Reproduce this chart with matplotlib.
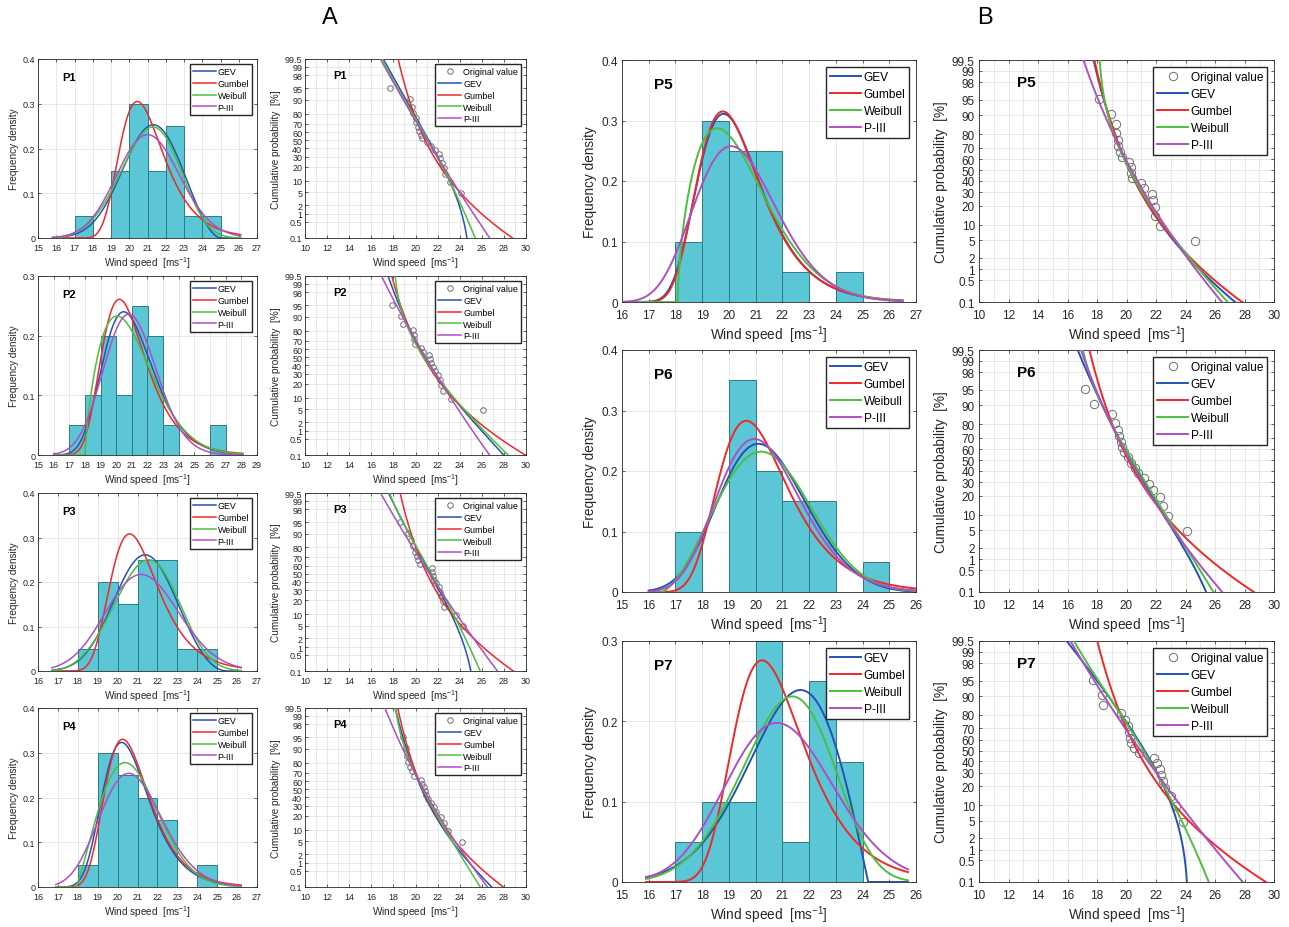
import math
import numpy as np
import matplotlib
matplotlib.use("Agg")
import matplotlib.pyplot as plt

plt.rcParams['font.family'] = ['Liberation Sans', 'DejaVu Sans']
plt.rcParams['mathtext.fontset'] = 'custom'
plt.rcParams['mathtext.rm'] = 'Liberation Sans'
plt.rcParams['mathtext.it'] = 'Liberation Sans:italic'

stations = ['P1', 'P2', 'P3', 'P4', 'P5', 'P6', 'P7']

# histogram bars (bin width 1 m/s), first bin left edge
bar_start = [17, 17, 18, 18, 18, 17, 17]
bar_heights = [
    [0.05, 0, 0.15, 0.30, 0.15, 0.25, 0.05, 0.05],
    [0.05, 0.10, 0.20, 0.10, 0.25, 0.20, 0.05, 0, 0, 0.05],
    [0.05, 0.20, 0.15, 0.25, 0.25, 0.05, 0.05],
    [0.05, 0.30, 0.25, 0.20, 0.15, 0, 0.05],
    [0.10, 0.30, 0.25, 0.25, 0.05, 0, 0.05],
    [0.10, 0, 0.35, 0.20, 0.15, 0.15, 0, 0.05],
    [0.05, 0.10, 0.10, 0.30, 0.05, 0.25, 0.15],
]

# original annual maximum wind speeds (m/s)
samples = [
    [17.7, 19.5, 19.65, 19.8, 20.0, 20.05, 20.2, 20.35, 20.5, 20.6,
     21.05, 21.4, 21.75, 22.1, 22.25, 22.4, 22.55, 22.7, 23.1, 24.1],
    [17.9, 18.7, 18.9, 19.75, 19.85, 19.9, 19.97, 20.5, 20.65, 21.2,
     21.3, 21.4, 21.6, 21.8, 22.05, 22.2, 22.35, 22.5, 23.2, 26.1],
    [18.6, 19.3, 19.6, 19.8, 19.95, 20.1, 20.2, 20.4, 21.45, 21.5,
     21.6, 21.7, 21.9, 22.1, 22.2, 22.35, 22.5, 22.6, 23.7, 24.3],
    [18.9, 19.1, 19.2, 19.3, 19.5, 19.7, 19.9, 20.5, 20.6, 20.8,
     20.9, 20.95, 21.1, 21.4, 21.7, 21.9, 22.3, 22.6, 22.9, 24.2],
    [18.13, 18.93, 19.27, 19.3, 19.4, 19.45, 19.55, 19.68, 20.2, 20.3,
     20.3, 20.35, 20.95, 21.16, 21.73, 21.78, 21.9, 21.95, 22.3, 24.67],
    [17.2, 17.8, 19.0, 19.2, 19.4, 19.5, 19.6, 19.7, 19.85, 20.1,
     20.3, 20.6, 20.8, 21.2, 21.5, 21.8, 22.3, 22.5, 22.8, 24.1],
    [17.7, 18.31, 18.43, 19.6, 19.88, 20.1, 20.17, 20.25, 20.33, 20.5,
     20.87, 21.85, 22.05, 22.28, 22.35, 22.46, 22.6, 23.05, 23.37, 23.8],
]

# fitted curves: mode, peak density, speed at 0.1 % exceedance
gumbel_mode = [20.44, 20.20, 20.60, 20.25, 19.77, 19.65, 20.24]
gumbel_peak = [0.305, 0.261, 0.308, 0.330, 0.315, 0.283, 0.276]

gev_mode = [21.32, 20.48, 21.38, 20.20, 19.80, 20.10, 21.68]
gev_peak = [0.253, 0.240, 0.261, 0.323, 0.311, 0.245, 0.239]
gev_x999 = [24.65, 27.97, 25.00, 26.90, 27.36, 25.40, 24.10]

wbl_mode = [21.30, 20.05, 21.55, 20.37, 19.56, 20.20, 21.37]
wbl_peak = [0.248, 0.233, 0.250, 0.278, 0.287, 0.232, 0.231]
wbl_x999 = [25.40, 28.37, 25.86, 25.85, 26.86, 25.90, 25.58]

p3_mode = [21.00, 20.80, 21.18, 20.55, 20.08, 19.95, 20.80]
p3_peak = [0.231, 0.236, 0.217, 0.254, 0.2575, 0.253, 0.198]
p3_x999 = [26.70, 26.70, 27.40, 26.50, 26.45, 26.50, 27.86]

# axes
pdf_xlim = [(15, 27), (15, 29), (16, 27), (16, 27), (16, 27), (15, 26), (15, 26)]
pdf_ymax = [0.4, 0.3, 0.4, 0.4, 0.4, 0.4, 0.3]
curve_range = [(15.8, 26.1), (16.0, 28.1), (16.7, 26.2), (16.9, 26.2),
               (16.0, 26.5), (16.0, 26.0), (15.9, 25.7)]
prob_ticks = [0.1, 0.5, 1, 2, 5, 10, 20, 30, 40, 50, 60, 70, 80, 90, 95, 98, 99, 99.5]

dist_names = ['GEV', 'Gumbel', 'Weibull', 'P-III']
dist_colors = ['#2552b2', '#f02828', '#4cc03c', '#b04ec4']
BAR = '#5bc6d6'
EDGE = '#2e7b82'
AX = '#262626'

# normal probability scale
ZZ = np.linspace(-6, 6, 120001)
CC = 0.5 * (1 + np.array([math.erf(z / math.sqrt(2)) for z in ZZ]))


def ppf(p):
    return np.interp(p, CC, ZZ)


def fit_gev(mode, peak, x999):
    best = (1e9, 0, 0, 0)
    for k in np.linspace(-0.9, 0.6, 1501):
        if abs(k) < 1e-3:
            continue
        s = (1 + k) ** (1 + k) * math.exp(-(1 + k)) / peak
        mu = mode - s * ((1 + k) ** (-k) - 1) / k
        q = mu + s * ((-math.log(0.999)) ** (-k) - 1) / k
        if abs(q - x999) < best[0]:
            best = (abs(q - x999), k, mu, s)
    return best[1:]


def gev_curve(x, k, mu, s):
    y = 1 + k * (x - mu) / s
    ok = y > 0
    t = np.where(ok, y, 1.0) ** (-1 / k)
    pdf = np.where(ok, t ** (k + 1) * np.exp(-t) / s, 0.0)
    cdf = np.where(ok, np.exp(-t), 1.0 if k < 0 else 0.0)
    return pdf, cdf


def gumbel_curve(x, mode, peak):
    b = 1 / (math.e * peak)
    z = (x - mode) / b
    return np.exp(-z - np.exp(-z)) / b, np.exp(-np.exp(-z))


def fit_wbl(mode, peak, x999):
    best = (1e9, 0, 0, 0)
    for k in np.linspace(1.05, 15, 2800):
        r = (k - 1) / k
        lam = k / peak * r ** r * math.exp(-r)
        c = mode - lam * r ** (1 / k)
        q = c + lam * math.log(1000) ** (1 / k)
        if abs(q - x999) < best[0]:
            best = (abs(q - x999), k, c, lam)
    return best[1:]


def wbl_curve(x, k, c, lam):
    u = np.clip((x - c) / lam, 0, None)
    pdf = np.where(x > c, k / lam * u ** (k - 1) * np.exp(-u ** k), 0.0)
    return pdf, 1 - np.exp(-u ** k)


def p3_from_skew(g, mode, peak):
    a = 4 / g ** 2
    y0 = a - 1
    phi = math.exp((a - 1) * math.log(y0) - y0 - math.lgamma(a)) / (g / 2)
    s = phi / peak
    mean = mode + s * g / 2
    return a, s * g / 2, mean - 2 * s / g, mean, s


def p3_table(a, b, c, mean, s):
    xs = np.linspace(max(c, mean - 9 * s), mean + 20 * s, 20001)
    y = np.clip((xs - c) / b, 1e-300, None)
    f = np.exp((a - 1) * np.log(y) - y - math.lgamma(a)) / b
    f[xs <= c] = 0
    F = np.concatenate([[0], np.cumsum((f[1:] + f[:-1]) / 2 * np.diff(xs))])
    return xs, f, F / F[-1]


def fit_p3(mode, peak, x999):
    best = (1e9, None)
    for g in np.linspace(0.02, 1.9, 189):
        par = p3_from_skew(g, mode, peak)
        xs, f, F = p3_table(*par)
        q = np.interp(0.999, F, xs)
        if abs(q - x999) < best[0]:
            best = (abs(q - x999), par)
    return best[1]


def p3_curve(x, par):
    xs, f, F = p3_table(*par)
    return np.interp(x, xs, f, left=0, right=0), np.interp(x, xs, F, left=0, right=1)


def curves(i, x):
    gev = fit_gev(gev_mode[i], gev_peak[i], gev_x999[i])
    wbl = fit_wbl(wbl_mode[i], wbl_peak[i], wbl_x999[i])
    p3 = fit_p3(p3_mode[i], p3_peak[i], p3_x999[i])
    return [gev_curve(x, *gev),
            gumbel_curve(x, gumbel_mode[i], gumbel_peak[i]),
            wbl_curve(x, *wbl),
            p3_curve(x, p3)]


def style(ax, fs, big):
    for sp in ax.spines.values():
        sp.set_color(AX)
        sp.set_linewidth(0.6)
    ax.tick_params(direction='in', length=2.5, width=0.5, top=True, right=True,
                   labelsize=fs, colors=AX, pad=3 if big else 2)
    ax.tick_params(axis='x', pad=5 if big else 3.5)
    ax.tick_params(which='minor', length=0, top=True, right=True)
    ax.grid(True, which='both', color='#dedede', lw=0.5, zorder=0)
    ax.set_axisbelow(True)


def add_legend(ax, big):
    ax.legend(loc='upper right', fontsize=8.6 if big else 6.4, frameon=True, fancybox=False,
              edgecolor=AX, framealpha=1, handlelength=2.6, borderpad=0.35,
              labelspacing=0.42 if big else 0.32, handletextpad=0.2,
              borderaxespad=0.55)


def draw_pdf(ax, i, big):
    fs, lfs, lw = (8.5, 9.8, 1.4) if big else (6.5, 7.2, 1.1)
    h = np.array(bar_heights[i])
    left = bar_start[i] + np.arange(len(h))
    keep = h > 0
    ax.bar(left[keep], h[keep], width=1, align='edge', color=BAR,
           edgecolor=EDGE, lw=0.7, zorder=2)
    xs = np.linspace(curve_range[i][0], curve_range[i][1], 800)
    for (pdf, _), name, col in zip(curves(i, xs), dist_names, dist_colors):
        ax.plot(xs, pdf, color=col, lw=lw, label=name, zorder=3)
    x0, x1 = pdf_xlim[i]
    ax.set_xlim(x0, x1)
    ax.set_ylim(0, pdf_ymax[i])
    ax.set_xticks(np.arange(x0, x1 + 1))
    yt = np.round(np.arange(0, pdf_ymax[i] + 0.01, 0.1), 1)
    ax.set_yticks(yt)
    ax.set_yticklabels(['0' if v == 0 else f'{v:g}' for v in yt])
    style(ax, fs, big)
    ax.set_xlabel('Wind speed  [ms$^{-1}$]', fontsize=lfs, color=AX, labelpad=1.5)
    ax.set_ylabel('Frequency density', fontsize=lfs, color=AX, labelpad=3)
    ax.text(0.11, 0.9, stations[i], transform=ax.transAxes, fontsize=11 if big else 8,
            fontweight='bold', va='center')
    add_legend(ax, big)


def draw_prob(ax, i, big):
    fs, lfs, lw = (8.5, 9.8, 1.4) if big else (6.5, 7.2, 1.1)
    v = np.sort(samples[i])
    n = len(v)
    pe = (n - np.arange(n)) / (n + 1)
    ax.plot(v, ppf(pe), 'o', mfc='none', mec='#6e6e6e', mew=0.7,
            ms=6 if big else 4, label='Original value', zorder=3)
    xs = np.linspace(10, 30, 2001)
    for (_, cdf), name, col in zip(curves(i, xs), dist_names, dist_colors):
        ax.plot(xs, ppf(np.clip(1 - cdf, 1e-9, 1 - 1e-9)), color=col, lw=lw,
                label=name, zorder=4)
    ax.set_xlim(10, 30)
    ax.set_ylim(ppf(0.001), ppf(0.995))
    ax.set_xticks(np.arange(10, 31, 2))
    ax.set_xticks(np.arange(10, 31, 1), minor=True)
    ax.set_yticks(ppf(np.array(prob_ticks) / 100))
    ax.set_yticklabels([f'{p:g}' for p in prob_ticks])
    style(ax, fs, big)
    ax.set_xlabel('Wind speed  [ms$^{-1}$]', fontsize=lfs, color=AX, labelpad=1.5)
    ax.set_ylabel('Cumulative probability  [%]', fontsize=lfs, color=AX, labelpad=3)
    ax.text(0.13, 0.91, stations[i], transform=ax.transAxes, fontsize=11 if big else 8,
            fontweight='bold', va='center')
    add_legend(ax, big)


W, H = 1289, 928
fig = plt.figure(figsize=(W / 100, H / 100), dpi=100)


def rect(l, t, r, b):
    return [l / W, 1 - b / H, (r - l) / W, (b - t) / H]


rows_left = [(60, 239), (277, 456), (494, 672), (709, 888)]
rows_right = [(61, 303), (351, 593), (642, 883)]

for j, (t, b) in enumerate(rows_left):
    draw_pdf(fig.add_axes(rect(38, t, 257, b)), j, False)
    draw_prob(fig.add_axes(rect(305, t, 526, b)), j, False)

for j, (t, b) in enumerate(rows_right):
    draw_pdf(fig.add_axes(rect(622, t, 916, b)), j + 4, True)
    draw_prob(fig.add_axes(rect(979, t, 1274, b)), j + 4, True)

fig.text(330 / W, 1 - 18 / H, 'A', fontsize=17, ha='center', va='center')
fig.text(985 / W, 1 - 18 / H, 'B', fontsize=17, ha='center', va='center')

fig.savefig('out.png', dpi=100)
